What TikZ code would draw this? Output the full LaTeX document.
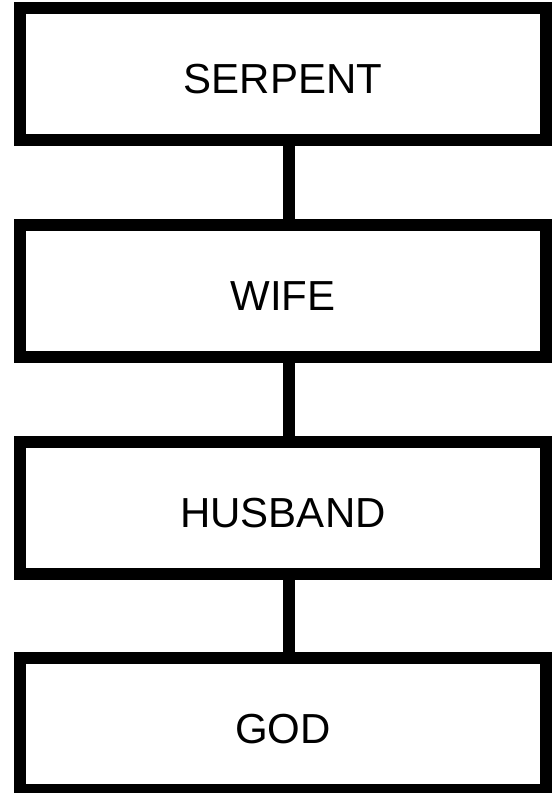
\documentclass[tikz,border=0pt]{standalone}
\usepackage{fontspec}
\setmainfont{Liberation Sans}
\begin{document}
\begin{tikzpicture}[x=1pt,y=1pt,
  tbox/.style={draw=black, line width=12pt, fill=white, minimum width=526pt, minimum height=132pt,
    inner sep=0pt, text height=39pt, text depth=0pt,
    font=\fontsize{42pt}{50pt}\selectfont},
  link/.style={line width=12pt, draw=black}]
\useasboundingbox (0,0) rectangle (553,-793);
\node[tbox] (serpent) at (283,-74) {SERPENT};
\node[tbox] (wife) at (283,-291) {WIFE};
\node[tbox] (husband) at (283,-508) {HUSBAND};
\node[tbox] (god) at (283,-724) {GOD};
\draw[link] ([xshift=6pt]serpent.south) -- ([xshift=6pt]wife.north);
\draw[link] ([xshift=6pt]wife.south) -- ([xshift=6pt]husband.north);
\draw[link] ([xshift=6pt]husband.south) -- ([xshift=6pt]god.north);
\end{tikzpicture}
\end{document}
